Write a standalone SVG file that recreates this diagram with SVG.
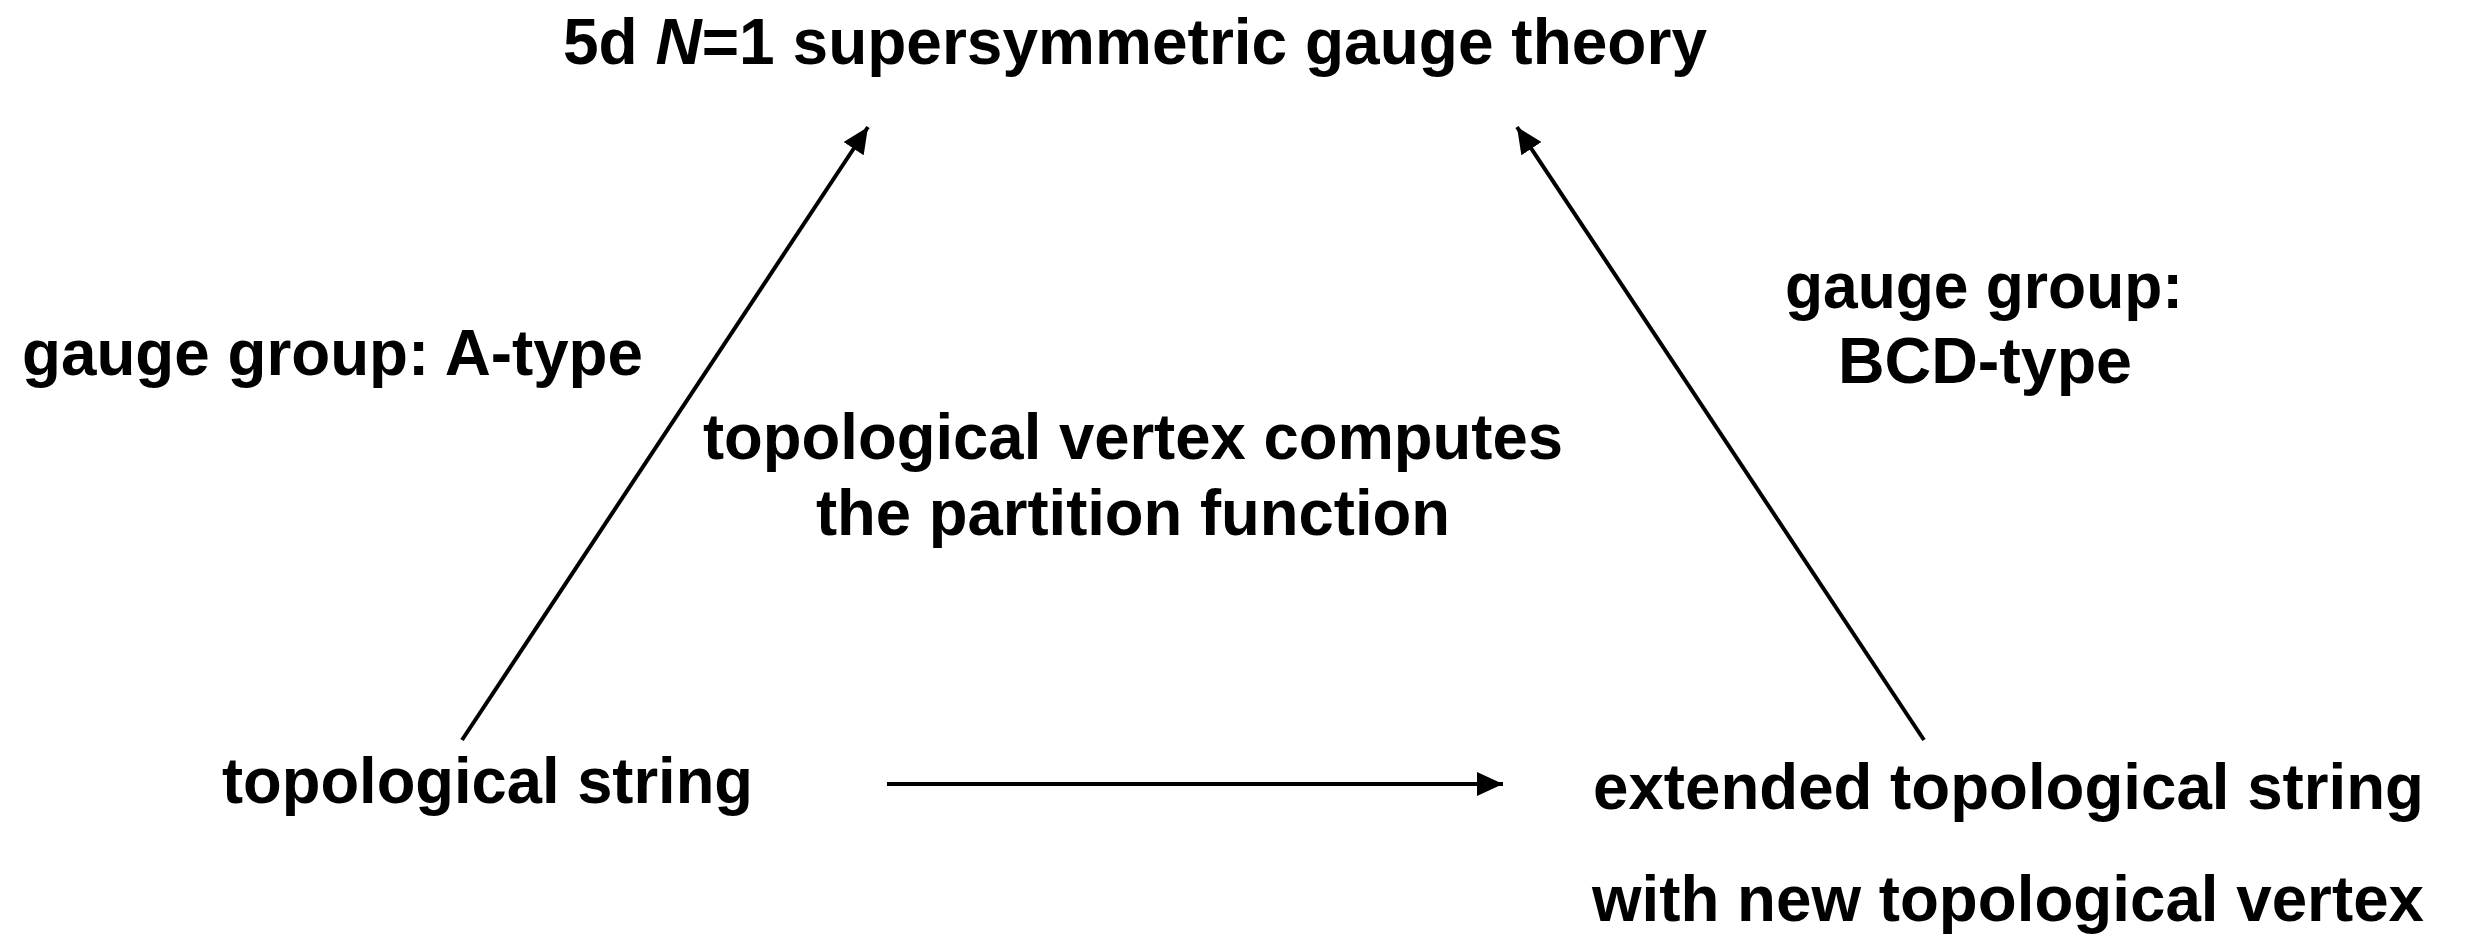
<svg xmlns="http://www.w3.org/2000/svg" width="2471" height="947" viewBox="0 0 2471 947">
  <style>
    .lbl { font-family: "Liberation Sans", Arial, Helvetica, sans-serif; font-weight: bold; font-size: 64px; fill: #000; }
    .edge { stroke: #000; stroke-width: 4; fill: none; }
  </style>
  <defs>
    <marker id="head" viewBox="0 0 26 24" refX="26" refY="12" markerWidth="26" markerHeight="24" markerUnits="userSpaceOnUse" orient="auto">
      <path d="M0,0 L26,12 L0,24 Z" fill="#000"/>
    </marker>
  </defs>
  <rect width="2471" height="947" fill="#fff"/>

  <g id="gauge-theory">
    <text class="lbl" x="563" y="64" textLength="1144" lengthAdjust="spacingAndGlyphs">5d <tspan font-style="italic">N</tspan>=1 supersymmetric gauge theory</text>
  </g>

  <g id="topological-string">
    <text class="lbl" x="222" y="803" textLength="531" lengthAdjust="spacingAndGlyphs">topological string</text>
  </g>

  <g id="extended-topological-string">
    <text class="lbl" x="1593" y="809" textLength="831" lengthAdjust="spacingAndGlyphs">extended topological string</text>
    <text class="lbl" x="1592" y="921" textLength="832" lengthAdjust="spacingAndGlyphs">with new topological vertex</text>
  </g>

  <g id="connectors">
    <line class="edge" x1="462" y1="740" x2="868" y2="127" marker-end="url(#head)"/>
    <line class="edge" x1="1924" y1="740" x2="1517" y2="127" marker-end="url(#head)"/>
    <line class="edge" x1="887" y1="784" x2="1503" y2="784" marker-end="url(#head)"/>
  </g>

  <g id="edge-labels">
    <text class="lbl" x="22" y="375" textLength="621" lengthAdjust="spacingAndGlyphs">gauge group: A-type</text>
    <text class="lbl" x="1785" y="308" textLength="398" lengthAdjust="spacingAndGlyphs">gauge group:</text>
    <text class="lbl" x="1838" y="383" textLength="294" lengthAdjust="spacingAndGlyphs">BCD-type</text>
    <text class="lbl" x="703" y="459" textLength="860" lengthAdjust="spacingAndGlyphs">topological vertex computes</text>
    <text class="lbl" x="816" y="535" textLength="634" lengthAdjust="spacingAndGlyphs">the partition function</text>
  </g>
</svg>
